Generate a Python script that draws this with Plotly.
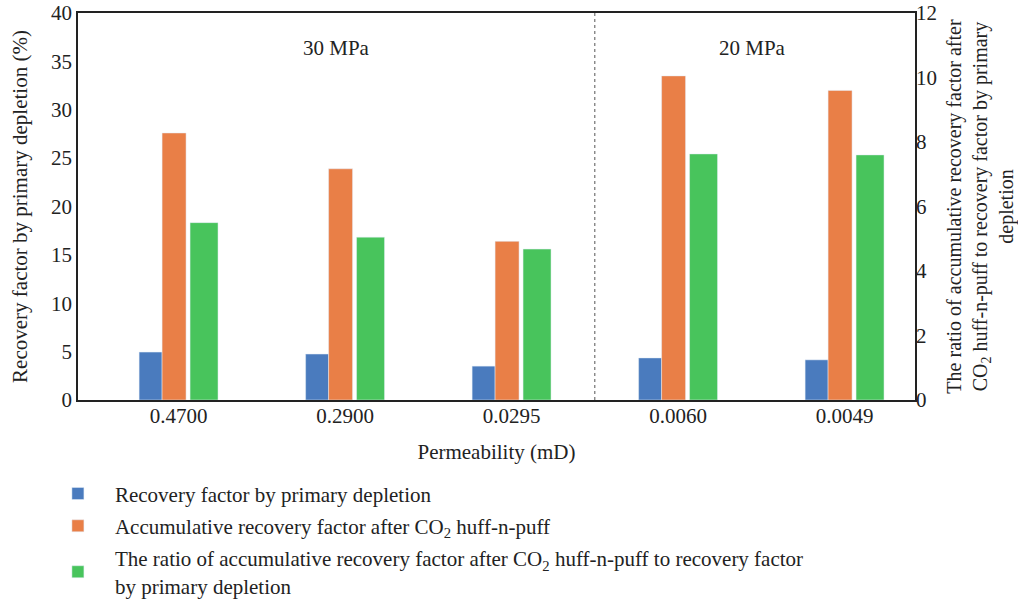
import plotly.graph_objects as go

categories = ["0.4700", "0.2900", "0.0295", "0.0060", "0.0049"]
primary_rf = [4.95, 4.75, 3.5, 4.35, 4.15]
huff_rf = [27.6, 23.9, 16.4, 33.5, 32.0]
ratio = [5.5, 5.05, 4.68, 7.63, 7.6]
pressure_labels = ["30 MPa", "20 MPa"]

names = [
    "Recovery factor by primary depletion",
    "Accumulative recovery factor after CO<sub>2</sub> huff-n-puff",
    "The ratio of accumulative recovery factor after CO<sub>2</sub> huff-n-puff to recovery factor<br>by primary depletion",
]
colors = ["#4A7BBE", "#E97F47", "#48C45C"]

xpos = list(range(len(categories)))
FONT = "Liberation Serif"
FS = 21
TXT = "#222222"

fig = go.Figure()
fig.add_trace(go.Bar(x=xpos, y=primary_rf, name=names[0], marker_color=colors[0],
                     offset=-0.237, width=0.138, legendgroup="a", yaxis="y"))
fig.add_trace(go.Bar(x=xpos, y=huff_rf, name=names[1], marker_color=colors[1],
                     offset=-0.099, width=0.144, legendgroup="b", yaxis="y"))
fig.add_trace(go.Bar(x=xpos, y=ratio, name=names[2], marker_color=colors[2],
                     offset=0.069, width=0.168, legendgroup="c", yaxis="y2"))

fig.add_shape(type="line", xref="x", yref="paper", x0=2.5, x1=2.5, y0=0, y1=1,
              line=dict(color="#555555", width=1, dash="dot"))

fig.add_annotation(x=0.95, y=36.4, xref="x", yref="y", text=pressure_labels[0],
                   showarrow=False, font=dict(family=FONT, size=FS, color=TXT))
fig.add_annotation(x=3.45, y=36.4, xref="x", yref="y", text=pressure_labels[1],
                   showarrow=False, font=dict(family=FONT, size=FS, color=TXT))

fig.update_layout(
    width=1018, height=606,
    margin=dict(l=78, r=103, t=13, b=206, autoexpand=False),
    plot_bgcolor="white", paper_bgcolor="white",
    barmode="overlay",
    font=dict(family=FONT, size=FS, color=TXT),
    xaxis=dict(
        range=[-0.604, 4.423], tickvals=xpos, ticktext=categories,
        showline=True, linecolor="#222", linewidth=1.5, mirror=True,
        ticks="", showgrid=False, zeroline=False, automargin=False,
        tickfont=dict(size=FS), ticklabelstandoff=-4,
        title=dict(text="Permeability (mD)", standoff=17, font=dict(size=FS)),
    ),
    yaxis=dict(
        range=[0, 40], dtick=5, showline=True, linecolor="#222", linewidth=1.5,
        mirror=True, ticks="", showgrid=False, zeroline=False, automargin=False,
        tickfont=dict(size=FS),
        title=dict(text="Recovery factor by primary depletion (%)", standoff=18,
                   font=dict(size=FS)),
    ),
    yaxis2=dict(
        range=[0, 12], dtick=2, overlaying="y", side="right",
        showline=False, ticks="", showgrid=False, zeroline=False, automargin=False,
        tickfont=dict(size=FS),
        title=dict(text="The ratio of accumulative recovery factor after<br>CO<sub>2</sub> huff-n-puff to recovery factor by primary<br>depletion",
                   standoff=10, font=dict(size=20)),
    ),
    legend=dict(
        x=-0.0443, y=-0.1895, xanchor="left", yanchor="top",
        traceorder="grouped", tracegroupgap=2,
        font=dict(family=FONT, size=FS, color=TXT),
        itemwidth=64,
    ),
    showlegend=True,
)

fig.write_html("out.html")
